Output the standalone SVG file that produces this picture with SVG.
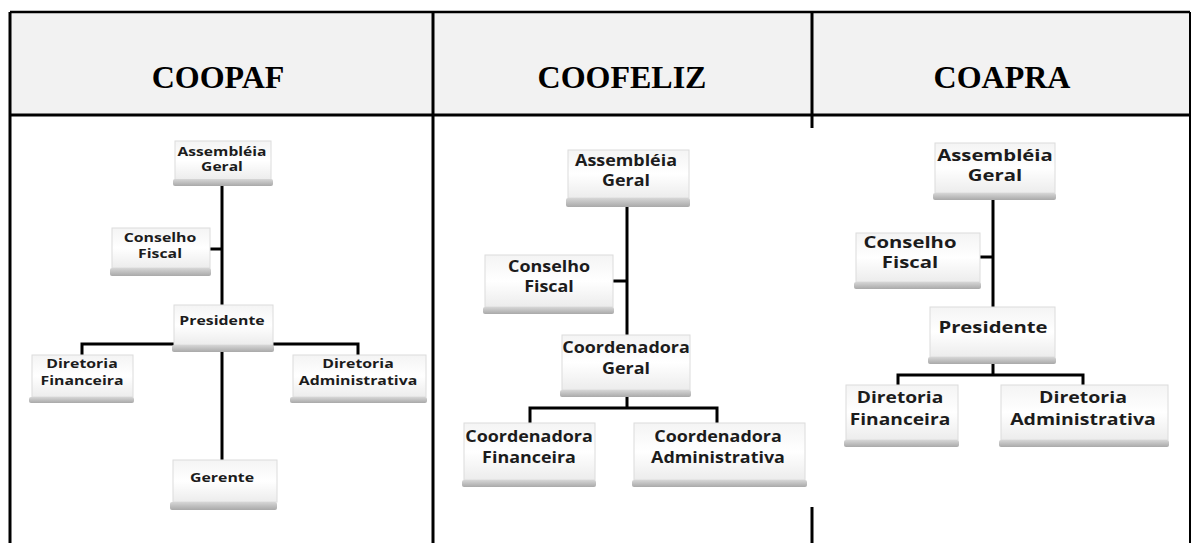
<svg xmlns="http://www.w3.org/2000/svg" width="1191" height="543" viewBox="0 0 1191 543">
<defs>
<linearGradient id="bodyGrad" x1="0" y1="0" x2="0" y2="1">
<stop offset="0" stop-color="#f4f4f4"/>
<stop offset="0.5" stop-color="#ffffff"/>
<stop offset="1" stop-color="#ececec"/>
</linearGradient>
<linearGradient id="barGrad" x1="0" y1="0" x2="0" y2="1">
<stop offset="0" stop-color="#d6d6d6"/>
<stop offset="1" stop-color="#a9a9a9"/>
</linearGradient>
</defs>
<style>
.body{fill:url(#bodyGrad);stroke:#dcdcdc;stroke-width:1}
.bar{fill:url(#barGrad)}
.t{font-family:"Open Sans","Liberation Sans",sans-serif;font-weight:bold;fill:#1c1c1c;text-anchor:middle}
.s0{font-size:12px}
.s1{font-size:13px}
.s2{font-size:16px}
.s3{font-size:16px}
.title{font-family:"Liberation Serif","Times New Roman",serif;font-weight:bold;font-size:32px;fill:#000;text-anchor:middle}
.grid{stroke:#000;fill:none}
.conn{stroke:#000;stroke-width:3;fill:none}
</style>
<rect width="1191" height="543" fill="#fff"/>
<g id="table">
<rect x="10" y="12" width="1179" height="103" fill="#f2f2f2"/>
<line class="grid" x1="10" y1="12" x2="1190" y2="12" stroke-width="2.5"/>
<line class="grid" x1="10" y1="115" x2="1190" y2="115" stroke-width="3"/>
<line class="grid" x1="10" y1="12" x2="10" y2="543" stroke-width="3"/>
<line class="grid" x1="433" y1="12" x2="433" y2="543" stroke-width="3"/>
<line class="grid" x1="812" y1="12" x2="812" y2="128" stroke-width="3"/>
<line class="grid" x1="812" y1="507" x2="812" y2="543" stroke-width="3"/>
<line class="grid" x1="1190" y1="12" x2="1190" y2="543" stroke-width="2"/>
<text class="title" x="218" y="88">COOPAF</text>
<text class="title" x="622" y="88">COOFELIZ</text>
<text class="title" x="1002" y="88">COAPRA</text>
</g>
<g id="connectors">
<line class="conn" x1="222" y1="186" x2="222" y2="305"/>
<line class="conn" x1="210" y1="249" x2="222" y2="249"/>
<line class="conn" x1="222" y1="350" x2="222" y2="460"/>
<polyline class="conn" points="82,355 82,344 358,344 358,355"/>
<line class="conn" x1="627" y1="207" x2="627" y2="335"/>
<line class="conn" x1="613" y1="281" x2="627" y2="281"/>
<line class="conn" x1="627" y1="397" x2="627" y2="408"/>
<polyline class="conn" points="530,423 530,408 717,408 717,423"/>
<line class="conn" x1="993" y1="200" x2="993" y2="307"/>
<line class="conn" x1="980" y1="257" x2="993" y2="257"/>
<line class="conn" x1="993" y1="364" x2="993" y2="375"/>
<polyline class="conn" points="898,385 898,375 1083,375 1083,385"/>
</g>
<g id="coopaf-assembleia">
<rect class="body" x="175" y="141" width="96" height="39"/>
<rect class="bar" x="173" y="179" width="100" height="7" rx="2"/>
<text class="t s0" transform="translate(222 156) scale(1.3 1)">Assembléia</text>
<text class="t s0" transform="translate(222 171) scale(1.3 1)">Geral</text>
</g>
<g id="coopaf-conselho">
<rect class="body" x="112" y="228" width="98" height="40"/>
<rect class="bar" x="110" y="268" width="101" height="8" rx="2"/>
<text class="t s1" transform="translate(160 242) scale(1.22 1)">Conselho</text>
<text class="t s1" transform="translate(160 258) scale(1.22 1)">Fiscal</text>
</g>
<g id="coopaf-presidente">
<rect class="body" x="174" y="305" width="99" height="40"/>
<rect class="bar" x="172" y="345" width="102" height="7" rx="2"/>
<text class="t s1" transform="translate(222 325) scale(1.22 1)">Presidente</text>
</g>
<g id="coopaf-dirfin">
<rect class="body" x="32" y="355" width="101" height="42"/>
<rect class="bar" x="29" y="397" width="105" height="6" rx="2"/>
<text class="t s1" transform="translate(82 368) scale(1.22 1)">Diretoria</text>
<text class="t s1" transform="translate(82 385) scale(1.22 1)">Financeira</text>
</g>
<g id="coopaf-diradm">
<rect class="body" x="293" y="355" width="133" height="42"/>
<rect class="bar" x="290" y="397" width="137" height="6" rx="2"/>
<text class="t s1" transform="translate(358 368) scale(1.22 1)">Diretoria</text>
<text class="t s1" transform="translate(358 385) scale(1.22 1)">Administrativa</text>
</g>
<g id="coopaf-gerente">
<rect class="body" x="173" y="460" width="104" height="42"/>
<rect class="bar" x="170" y="502" width="107" height="8" rx="2"/>
<text class="t s1" transform="translate(222 482) scale(1.22 1)">Gerente</text>
</g>
<g id="coofeliz-assembleia">
<rect class="body" x="568" y="150" width="121" height="48"/>
<rect class="bar" x="566" y="198" width="124" height="9" rx="2"/>
<text class="t s2" transform="translate(626 166) scale(1.12 1)">Assembléia</text>
<text class="t s2" transform="translate(626 186) scale(1.12 1)">Geral</text>
</g>
<g id="coofeliz-conselho">
<rect class="body" x="485" y="255" width="128" height="52"/>
<rect class="bar" x="483" y="307" width="131" height="7" rx="2"/>
<text class="t s2" transform="translate(549 272) scale(1.12 1)">Conselho</text>
<text class="t s2" transform="translate(549 292) scale(1.12 1)">Fiscal</text>
</g>
<g id="coofeliz-coordgeral">
<rect class="body" x="562" y="335" width="128" height="55"/>
<rect class="bar" x="560" y="390" width="131" height="7" rx="2"/>
<text class="t s2" transform="translate(626 353) scale(1.12 1)">Coordenadora</text>
<text class="t s2" transform="translate(626 374) scale(1.12 1)">Geral</text>
</g>
<g id="coofeliz-coordfin">
<rect class="body" x="464" y="423" width="131" height="57"/>
<rect class="bar" x="462" y="480" width="134" height="7" rx="2"/>
<text class="t s2" transform="translate(529 442) scale(1.12 1)">Coordenadora</text>
<text class="t s2" transform="translate(529 463) scale(1.12 1)">Financeira</text>
</g>
<g id="coofeliz-coordadm">
<rect class="body" x="634" y="423" width="171" height="57"/>
<rect class="bar" x="632" y="480" width="175" height="7" rx="2"/>
<text class="t s2" transform="translate(718 442) scale(1.12 1)">Coordenadora</text>
<text class="t s2" transform="translate(718 463) scale(1.12 1)">Administrativa</text>
</g>
<g id="coapra-assembleia">
<rect class="body" x="935" y="143" width="120" height="50"/>
<rect class="bar" x="933" y="193" width="123" height="7" rx="2"/>
<text class="t s3" transform="translate(995 161) scale(1.27 1)">Assembléia</text>
<text class="t s3" transform="translate(995 181) scale(1.27 1)">Geral</text>
</g>
<g id="coapra-conselho">
<rect class="body" x="856" y="233" width="124" height="49"/>
<rect class="bar" x="854" y="282" width="127" height="7" rx="2"/>
<text class="t s3" transform="translate(910 248) scale(1.27 1)">Conselho</text>
<text class="t s3" transform="translate(910 268) scale(1.27 1)">Fiscal</text>
</g>
<g id="coapra-presidente">
<rect class="body" x="930" y="307" width="125" height="50"/>
<rect class="bar" x="928" y="357" width="128" height="7" rx="2"/>
<text class="t s3" transform="translate(993 333) scale(1.27 1)">Presidente</text>
</g>
<g id="coapra-dirfin">
<rect class="body" x="846" y="385" width="112" height="55"/>
<rect class="bar" x="844" y="440" width="115" height="7" rx="2"/>
<text class="t s3" transform="translate(900 403) scale(1.2 1)">Diretoria</text>
<text class="t s3" transform="translate(900 425) scale(1.2 1)">Financeira</text>
</g>
<g id="coapra-diradm">
<rect class="body" x="1001" y="385" width="167" height="55"/>
<rect class="bar" x="999" y="440" width="170" height="7" rx="2"/>
<text class="t s3" transform="translate(1083 403) scale(1.22 1)">Diretoria</text>
<text class="t s3" transform="translate(1083 425) scale(1.22 1)">Administrativa</text>
</g>
</svg>
